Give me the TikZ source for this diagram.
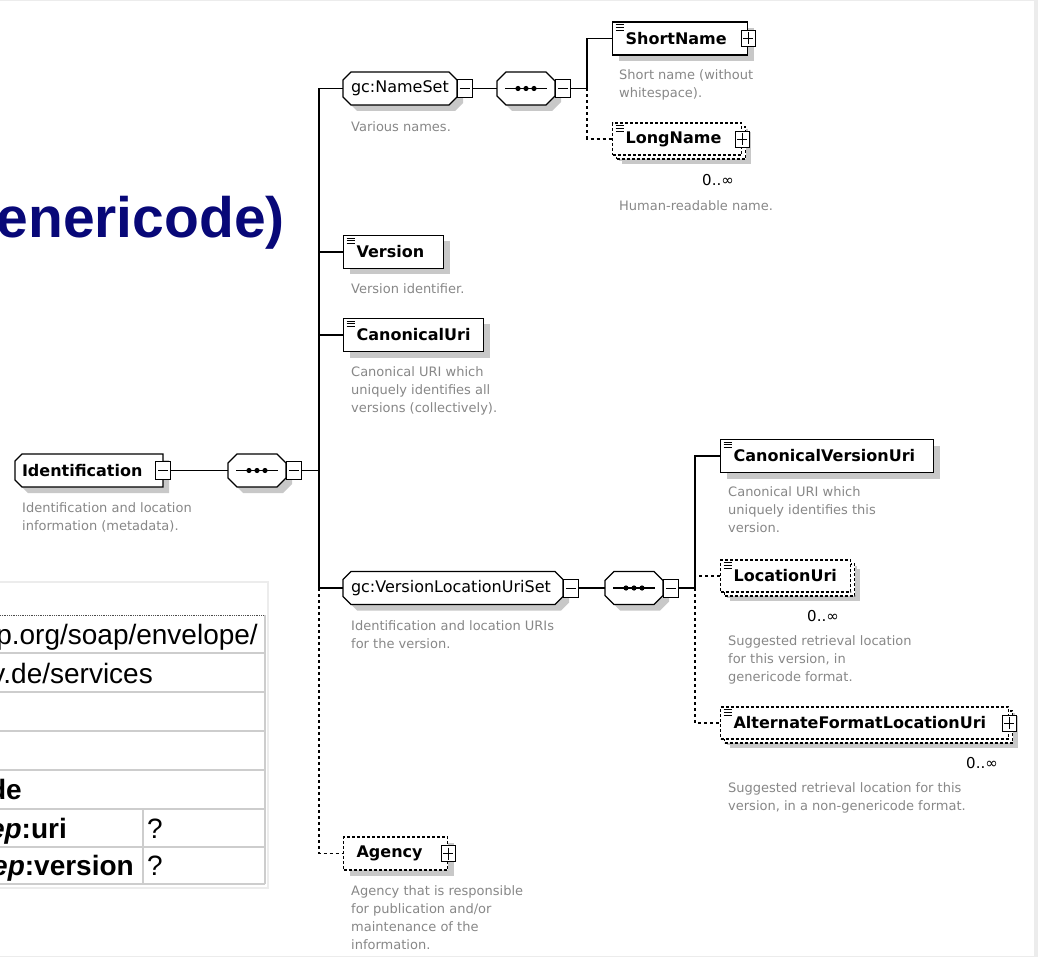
\documentclass[tikz,border=0pt]{standalone}
\usepackage{fontspec}
\setmainfont{DejaVu Sans}
\newfontfamily\tablefont{Liberation Sans}
\usetikzlibrary{shadows}

\pgfdeclarelayer{background}
\pgfsetlayers{background,main}

\definecolor{titleblue}{RGB}{8,8,120}
\definecolor{descgrey}{RGB}{135,135,135}
\definecolor{shadowgrey}{RGB}{200,200,200}
\definecolor{rulegrey}{RGB}{205,205,205}
\definecolor{panelgrey}{RGB}{236,236,236}

% chamfered frame behind a group or sequence node: node, left cut, right cut
\newcommand{\groupframe}[3]{%
  \begin{pgfonlayer}{background}
    \draw[groupline] ([xshift=#2]#1.north west) -- ([xshift=-#3]#1.north east)
      -- ([yshift=-#3]#1.north east) -- ([yshift=#3]#1.south east)
      -- ([xshift=-#3]#1.south east) -- ([xshift=#2]#1.south west)
      -- ([yshift=#2]#1.south west) -- ([yshift=-#2]#1.north west) -- cycle;
  \end{pgfonlayer}}

% the sequence mark inside a sequence node
\newcommand{\seqmark}[1]{%
  \draw[line width=1.1pt] ([xshift=8pt]#1.west) -- ([xshift=-8pt]#1.east);
  \fill ([xshift=-8pt]#1.center) circle[radius=2.6pt];
  \fill (#1.center) circle[radius=2.6pt];
  \fill ([xshift=8pt]#1.center) circle[radius=2.6pt];}

\begin{document}
\begin{tikzpicture}[x=1pt, y=-1pt,
    elem/.style={rectangle, draw=black, fill=white, line width=1.2pt, anchor=west,
      minimum height=33pt, inner xsep=13pt, inner ysep=0pt, align=left,
      font=\bfseries\fontsize{16}{18}\selectfont,
      drop shadow={shadow xshift=6pt, shadow yshift=-6pt, fill=shadowgrey, opacity=1}},
    optional/.style={dash pattern=on 3pt off 2pt},
    multi/.style={drop shadow={shadow xshift=9pt, shadow yshift=-9pt, fill=shadowgrey, opacity=1},
      general shadow={shadow xshift=4pt, shadow yshift=-4pt, draw=black, fill=white,
        line width=1.2pt, dash pattern=on 3pt off 2pt}},
    simple/.style={path picture={
      \foreach \k in {0,1,2}
        \draw[solid, line width=0.7pt] ([shift={(3,2.5+2.8*\k)}]path picture bounding box.north west) -- ++(8,0);}},
    group/.style={rectangle, anchor=west, minimum height=33pt, inner xsep=8pt, inner ysep=0pt,
      outer sep=0pt, align=left, font=\fontsize{16}{18}\selectfont},
    groupline/.style={draw=black, fill=white, line width=1.2pt,
      drop shadow={shadow xshift=6pt, shadow yshift=-6pt, fill=shadowgrey, opacity=1}},
    seqbox/.style={group, minimum width=58pt},
    minusbox/.style={rectangle, draw=black, fill=white, line width=0.9pt, minimum width=15pt,
      minimum height=18pt, inner sep=0pt, path picture={
      \draw[line width=0.9pt] ([xshift=2.5pt]path picture bounding box.west) -- ([xshift=-2.5pt]path picture bounding box.east);}},
    plusbox/.style={rectangle, draw=black, fill=white, line width=0.9pt, minimum width=14pt,
      minimum height=16pt, inner sep=0pt, path picture={
      \draw[line width=0.9pt] ([xshift=2pt]path picture bounding box.west) -- ([xshift=-2pt]path picture bounding box.east);
      \draw[line width=0.9pt] ([yshift=-2pt]path picture bounding box.north) -- ([yshift=2pt]path picture bounding box.south);}},
    link/.style={line width=1.1pt},
    optlink/.style={line width=1.1pt, dash pattern=on 3pt off 3pt},
    descr/.style={anchor=north west, inner sep=0pt, align=left, text=descgrey,
      font=\fontsize{13}{18.2}\selectfont},
    occurs/.style={inner sep=0pt, font=\fontsize{15}{16}\selectfont},
    cell/.style={anchor=base east, inner sep=0pt, font=\tablefont\fontsize{28}{30}\selectfont}
]
\useasboundingbox (0,0) rectangle (1038,957);

% panel border
\fill[panelgrey] (1034,0) rectangle (1038,957);
\draw[panelgrey, line width=1pt] (0,1) -- (1034,1) -- (1034,956) -- (0,956);

% title
\node[anchor=base east, inner sep=0pt, text=titleblue,
  font=\tablefont\bfseries\fontsize{57}{60}\selectfont] (title) at (285,238) {enericode)};

% table
\draw[panelgrey, line width=1.5pt] (0,582) -| (268,888) -- (0,888);
\draw[black!70, densely dotted, line width=0.8pt] (0,615) -- (264,615);
\foreach \ry in {653,692,731,770,809,847,884}
  \draw[rulegrey, line width=1.6pt] (0,\ry) -- (265,\ry);
\draw[rulegrey, line width=1.6pt] (265,615) -- (265,884);
\draw[rulegrey, line width=1.6pt] (143,809) -- (143,884);
\node[cell] (rowa) at (258,644) {p.org/soap/envelope/};
\node[cell] (rowb) at (153,683) {v.de/services};
\node[cell, font=\tablefont\bfseries\fontsize{28}{30}\selectfont] (rowc) at (22,799) {de};
\node[cell, font=\tablefont\bfseries\fontsize{28}{30}\selectfont] (rowd) at (67,838) {\itshape ep\upshape :uri};
\node[cell, anchor=base west] (rowdq) at (147,838) {?};
\node[cell, font=\tablefont\bfseries\fontsize{28}{30}\selectfont] (rowe) at (134,875) {\itshape ep\upshape :version};
\node[cell, anchor=base west] (roweq) at (147,875) {?};

% Identification
\node[group, inner xsep=7pt, text width=134pt, font=\bfseries\fontsize{16}{18}\selectfont] (ident) at (15,470.5) {Identification};
\groupframe{ident}{7pt}{0pt}
\node[minusbox] (identtog) at (ident.east) {};
\node[descr] (identnote) at (22,502) {Identification and location\\information (metadata).};

\node[seqbox] (seqA) at (228,470.5) {};
\groupframe{seqA}{9pt}{9pt}
\seqmark{seqA}
\node[minusbox, anchor=west] (seqAtog) at (seqA.east) {};
\coordinate (busA) at (319,470.5);
\draw[link] (identtog.east) -- (seqA.west);
\draw[link] (seqAtog.east) -- (busA);

% gc:NameSet
\node[group, text width=98pt] (nameset) at (343,88.5) {gc:NameSet};
\groupframe{nameset}{8pt}{8pt}
\node[minusbox, anchor=west] (namesettog) at (nameset.east) {};
\node[descr] (namesetnote) at (351,121) {Various names.};
\draw[link] (busA) |- (nameset.west);

\node[seqbox] (seqB) at (497,88.5) {};
\groupframe{seqB}{9pt}{9pt}
\seqmark{seqB}
\node[minusbox, anchor=west] (seqBtog) at (seqB.east) {};
\coordinate (busB) at (587,88.5);
\draw[link] (namesettog.east) -- (seqB.west);
\draw[link] (seqBtog.east) -- (busB);

\node[elem, simple, text width=109pt] (shortname) at (612,38.5) {ShortName};
\node[plusbox] (shortnametog) at (shortname.east) {};
\node[descr] (shortnamenote) at (619,69) {Short name (without\\whitespace).};
\draw[link] (busB) |- (shortname.west);

\node[elem, optional, multi, simple, minimum height=32pt, text width=103pt] (longname) at (612,139) {LongName};
\node[plusbox] (longnametog) at (longname.east) {};
\node[occurs] (longnameocc) at (718,180) {0..∞};
\node[descr] (longnamenote) at (619,200) {Human-readable name.};
\draw[optlink] (busB) |- (longname.west);

% Version, CanonicalUri
\node[elem, simple, text width=74pt] (version) at (343,252) {Version};
\node[descr] (versionnote) at (351,283) {Version identifier.};
\draw[link] (version.west) -- (version.west -| busA);

\node[elem, simple, text width=114pt] (canuri) at (343,335) {CanonicalUri};
\node[descr] (canurinote) at (351,366) {Canonical URI which\\uniquely identifies all\\versions (collectively).};
\draw[link] (canuri.west) -- (canuri.west -| busA);

% gc:VersionLocationUriSet
\node[group, text width=204pt] (vlus) at (343,588) {gc:VersionLocationUriSet};
\groupframe{vlus}{8pt}{8pt}
\node[minusbox, anchor=west] (vlustog) at (vlus.east) {};
\node[descr] (vlusnote) at (351,620) {Identification and location URIs\\for the version.};
\draw[link] (busA) |- (vlus.west);

\node[seqbox] (seqC) at (605,588) {};
\groupframe{seqC}{9pt}{9pt}
\seqmark{seqC}
\node[minusbox, anchor=west] (seqCtog) at (seqC.east) {};
\coordinate (busC) at (695,588);
\draw[link] (vlustog.east) -- (seqC.west);
\draw[link] (seqCtog.east) -- (busC);

\node[elem, simple, text width=187pt] (cvu) at (720,456) {CanonicalVersionUri};
\node[descr] (cvunote) at (728,486) {Canonical URI which\\uniquely identifies this\\version.};
\draw[link] (busC) |- (cvu.west);

\node[elem, optional, multi, simple, minimum height=32pt, text width=104pt] (locuri) at (720,576) {LocationUri};
\node[occurs] (locuriocc) at (823,616) {0..∞};
\node[descr] (locurinote) at (728,635) {Suggested retrieval location\\for this version, in\\genericode format.};
\draw[optlink] (locuri.west) -- (locuri.west -| busC);

\node[elem, optional, multi, simple, minimum height=32pt, text width=262pt] (aflu) at (720,723) {AlternateFormatLocationUri};
\node[plusbox] (aflutog) at (aflu.east) {};
\node[occurs] (afluocc) at (982,763) {0..∞};
\node[descr] (aflunote) at (728,782) {Suggested retrieval location for this\\version, in a non-genericode format.};
\draw[optlink] (busC) |- (aflu.west);

% Agency
\node[elem, optional, text width=78pt] (agency) at (343,853.5) {Agency};
\node[plusbox] (agencytog) at (agency.east) {};
\node[descr] (agencynote) at (351,885) {Agency that is responsible\\for publication and/or\\maintenance of the\\information.};
\draw[optlink] (busA |- vlus.west) |- (agency.west);

\end{tikzpicture}
\end{document}
